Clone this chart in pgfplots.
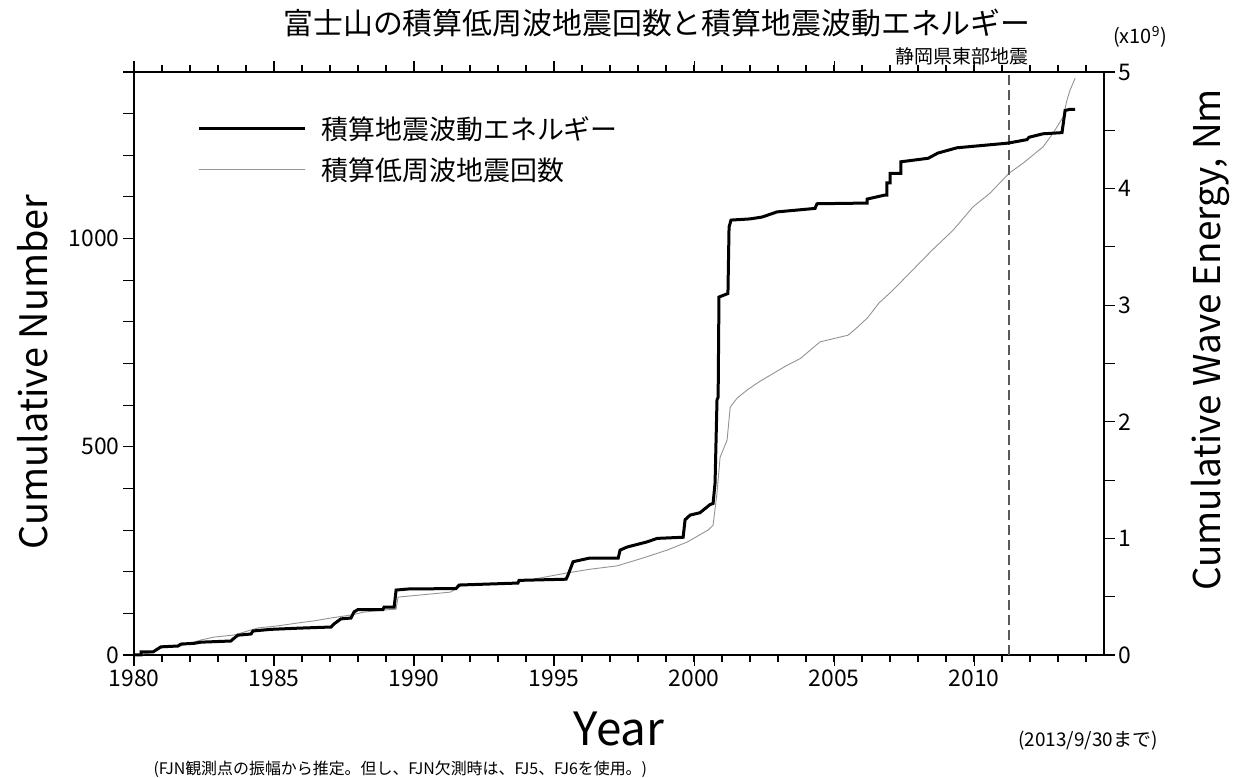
\documentclass[border=0pt]{standalone}
\usepackage{pgfplots}
\pgfplotsset{compat=1.18}
\usepackage{fontspec}
\setmainfont{Noto Sans CJK JP}

% cumulative number of low-frequency events (left axis)
\pgfplotstableread{
year n
1980.00 0
1980.60 5
1980.96 17
1981.68 22
1982.39 36
1982.86 43
1983.57 48
1983.93 55
1984.43 65
1985.14 70
1985.86 77
1986.43 82
1987.04 89
1987.75 96
1988.21 103
1988.93 108
1989.36 110
1989.43 139
1991.30 151
1991.68 166
1993.71 175
1994.50 185
1995.46 197
1996.29 206
1997.25 214
1998.18 233
1999.04 252
1999.75 271
2000.50 300
2000.68 312
2000.82 389
2000.93 475
2001.18 516
2001.29 595
2001.54 617
2001.89 636
2002.30 655
2002.80 675
2003.30 695
2003.80 712
2004.20 735
2004.50 752
2005.00 760
2005.50 768
2005.80 785
2006.20 810
2006.60 845
2007.10 876
2007.80 924
2008.50 972
2009.25 1020
2009.96 1076
2010.57 1109
2011.25 1157
2011.75 1181
2012.46 1220
2012.82 1253
2013.18 1292
2013.32 1333
2013.43 1357
2013.61 1385
}\counttable

% cumulative wave energy, x10^9 Nm (right axis)
\pgfplotstableread{
year e
1980.00 0.000
1980.25 0.000
1980.25 0.026
1980.68 0.026
1980.96 0.070
1981.57 0.077
1981.68 0.094
1982.14 0.100
1982.39 0.110
1983.46 0.120
1983.54 0.137
1983.71 0.170
1984.18 0.180
1984.25 0.206
1984.89 0.220
1985.86 0.230
1987.04 0.240
1987.14 0.266
1987.39 0.310
1987.75 0.317
1987.86 0.370
1988.00 0.390
1988.89 0.390
1988.93 0.410
1989.29 0.410
1989.36 0.557
1989.79 0.566
1991.50 0.570
1991.61 0.600
1993.71 0.617
1993.75 0.640
1995.43 0.650
1995.50 0.686
1995.68 0.800
1995.96 0.815
1996.25 0.830
1997.29 0.830
1997.36 0.900
1997.61 0.926
1998.32 0.970
1998.68 1.000
1999.61 1.010
1999.68 1.160
1999.86 1.200
2000.21 1.220
2000.57 1.290
2000.68 1.300
2000.75 1.475
2000.82 2.190
2000.86 2.210
2000.89 3.070
2001.21 3.100
2001.25 3.670
2001.32 3.730
2002.00 3.740
2002.43 3.756
2002.96 3.800
2004.32 3.830
2004.39 3.870
2006.18 3.876
2006.18 3.910
2006.82 3.945
2006.89 3.945
2006.89 4.050
2007.00 4.050
2007.00 4.130
2007.39 4.130
2007.39 4.230
2008.36 4.260
2008.71 4.305
2009.39 4.350
2011.21 4.390
2011.89 4.420
2011.96 4.440
2012.46 4.470
2013.14 4.480
2013.25 4.670
2013.43 4.680
2013.61 4.680
}\energytable

\begin{document}
\begin{tikzpicture}
\useasboundingbox (0bp,0bp) rectangle (1235bp,778bp);
\pgfplotsset{
  every axis/.append style={
    scale only axis, width=970bp, height=583bp,
    at={(134bp,123bp)}, anchor=south west,
    xmin=1980, xmax=2014.64,
    tick align=outside,
    major tick length=11bp, minor tick length=7bp,
    axis line style={line width=2bp},
    every tick/.style={black, line width=1.1bp},
    tick label style={font=\fontsize{23}{23}\selectfont},
    /pgf/number format/assume math mode=true,
    /pgf/number format/1000 sep={},
    clip=false,
  }
}
\begin{axis}[
  ymin=0, ymax=1400,
  xtick={1980,1985,...,2010},
  minor xtick={1980,...,2014},
  xtick pos=both, xticklabel pos=lower,
  ytick={0,500,1000},
  extra y ticks={100,200,300,400,600,700,800,900,1100,1200,1300,1400},
  extra y tick labels={},
  ytick pos=left,
]
\addplot[gray!85, line width=0.9bp] table[x=year, y=n] {\counttable};
\addplot[black!65, line width=1.2bp, dash pattern=on 10bp off 5bp] coordinates {(2011.25,0) (2011.25,1400)};
\end{axis}
\begin{axis}[
  ymin=0, ymax=5,
  hide x axis,
  axis y line*=right,
  ytick={0,1,...,5},
  extra y ticks={0.5,1.5,2.5,3.5,4.5},
  extra y tick labels={},
  legend style={draw=none, fill=none, at={(0.062,0.931)}, anchor=north west,
    font=\fontsize{27}{27}\selectfont, row sep=13bp},
  legend cell align=left,
  legend image code/.code={\draw[#1] (0bp,0bp) -- (106bp,0bp); \path[draw=none] (106bp,0bp) -- (121bp,0bp);},
]
\addplot[black, line width=3bp] table[x=year, y=e] {\energytable};
\addlegendentry{積算地震波動エネルギー}
\addlegendimage{gray!85, line width=0.9bp}
\addlegendentry{積算低周波地震回数}
\end{axis}
\node[font=\fontsize{30}{30}\selectfont] at (657bp,755bp) {富士山の積算低周波地震回数と積算地震波動エネルギー};
\node[font=\fontsize{19}{19}\selectfont] at (962bp,722bp) {静岡県東部地震};
\node[font=\fontsize{20}{20}\selectfont] at (1140bp,741bp) {(x10\textsuperscript{9})};
\node[rotate=90, font=\fontsize{38}{38}\selectfont] at (33bp,406bp) {Cumulative Number};
\node[rotate=90, font=\fontsize{37}{37}\selectfont] at (1210bp,438bp) {Cumulative Wave Energy, Nm};
\node[font=\fontsize{46}{46}\selectfont] at (619bp,49bp) {Year};
\node[font=\fontsize{19}{19}\selectfont] at (1088bp,37bp) {(2013/9/30まで)};
\node[anchor=west, font=\fontsize{16}{16}\selectfont] at (150bp,9bp) {(FJN観測点の振幅から推定。但し、FJN欠測時は、FJ5、FJ6を使用。)};
\end{tikzpicture}
\end{document}
